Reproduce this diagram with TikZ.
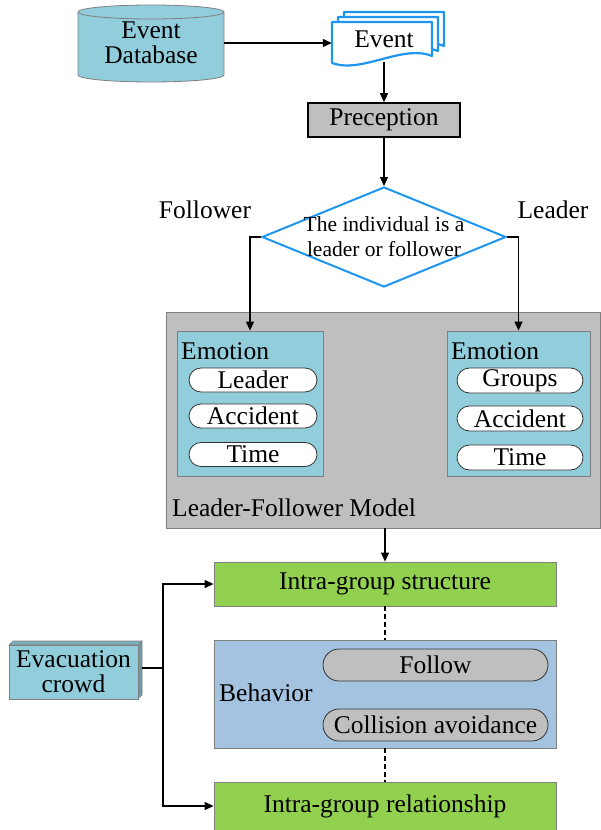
\documentclass[tikz,border=0pt]{standalone}
\usepackage{fontspec}
\setmainfont{Liberation Serif}
\newfontfamily\tnr{Liberation Serif}
\usetikzlibrary{shapes.geometric,shapes.misc,arrows.meta}
\definecolor{cyanfill}{HTML}{92CDDC}
\definecolor{docblue}{HTML}{1E96F0}
\definecolor{midgray}{HTML}{BFBFBF}
\definecolor{greenfill}{HTML}{92D050}
\definecolor{behavfill}{HTML}{A4C3E1}
\definecolor{edgegray}{HTML}{7F7F7F}
\newcommand{\bigtxt}{\tnr\fontsize{25.5}{25}\selectfont}
\tikzset{
  txt/.style={font=\bigtxt, inner sep=0pt},
  conn/.style={line width=1.2pt, -{Triangle[length=9pt,width=8pt]}},
  plainconn/.style={line width=1.2pt},
  pill/.style={rounded rectangle, draw=black!80, line width=0.8pt, fill=white, font=\bigtxt, inner sep=0pt},
  graypill/.style={pill, fill=midgray},
  emobox/.style={rectangle, draw=edgegray, line width=0.8pt, fill=cyanfill, inner sep=0pt},
  greenbox/.style={rectangle, draw=edgegray, line width=0.8pt, fill=greenfill, inner sep=0pt, font=\bigtxt},
}
\begin{document}
\begin{tikzpicture}[x=1pt,y=1pt]
\useasboundingbox (0,0) rectangle (601,-830);

% Event Database cylinder
\draw[draw=edgegray, line width=0.8pt, fill=cyanfill]
  (78,-12) -- (78,-75) arc[start angle=180,end angle=360,x radius=73,y radius=7]
  -- (224,-12) arc[start angle=0,end angle=180,x radius=73,y radius=7] -- cycle;
\draw[draw=edgegray, line width=0.8pt]
  (78,-12) arc[start angle=180,end angle=360,x radius=73,y radius=7];
\node[txt, align=center, minimum width=146pt, minimum height=70pt] (db) at (151,-43) {Event\\Database};

% Event multi-document
\foreach \dx/\dy in {12/10, 6/5, 0/0}{
  \begin{scope}[shift={(\dx,\dy)}]
  \draw[docblue, line width=2.2pt, fill=white, line join=round]
    (332,-22) -- (432,-22) -- (432,-56)
    .. controls (402,-44) and (362,-74) .. (332,-63) -- cycle;
  \end{scope}
}
\node[txt, minimum width=104pt, minimum height=38pt] (event) at (384,-43) {};
\node[txt] (eventlbl) at (384,-39) {Event};

% Preception
\node[rectangle, draw=black, line width=1.6pt, fill=midgray, minimum width=152pt, minimum height=34pt, font=\bigtxt, inner sep=0pt] (prec) at (384,-120) {Preception};

% Decision
\node[diamond, draw=docblue, line width=2pt, fill=white, minimum width=244pt, minimum height=100pt, aspect=2.44, inner sep=0pt] (dec) at (384,-237) {};
\node[font=\tnr\fontsize{21.5}{25}\selectfont, align=center, inner sep=0pt] (declbl) at (384,-237) {The individual is a\\leader or follower};
\node[txt] (fol) at (205,-210) {Follower};
\node[txt] (lead) at (553,-210) {Leader};

% Leader-Follower model box
\node[rectangle, draw=edgegray, line width=0.8pt, fill=midgray, minimum width=434pt, minimum height=216pt, inner sep=0pt] (lfm) at (383,-420) {};
\node[txt, anchor=west] (lfmlbl) at (172,-508) {Leader-Follower Model};

% Emotion boxes
\node[emobox, minimum width=146pt, minimum height=145pt] (emoL) at (250,-403.5) {};
\node[txt, anchor=west] (emoLlbl) at (181,-351) {Emotion};
\node[pill, minimum width=128pt, minimum height=24pt] (pL1) at (253,-380) {Leader};
\node[pill, minimum width=128pt, minimum height=24pt] (pL2) at (253,-416) {Accident};
\node[pill, minimum width=128pt, minimum height=24pt] (pL3) at (253,-454.5) {Time};

\node[emobox, minimum width=143pt, minimum height=145pt] (emoR) at (518.5,-403.5) {};
\node[txt, anchor=west] (emoRlbl) at (451,-351) {Emotion};
\node[pill, minimum width=126pt, minimum height=25pt] (pR1) at (520,-380.5) {Groups};
\node[pill, minimum width=126pt, minimum height=25pt] (pR2) at (520,-418.5) {Accident};
\node[pill, minimum width=126pt, minimum height=25pt] (pR3) at (520,-457.5) {Time};

% Lower part
\node[greenbox, minimum width=342pt, minimum height=44pt] (struct) at (385,-584) {Intra-group structure};
\node[rectangle, draw=edgegray, line width=0.8pt, fill=behavfill, minimum width=342pt, minimum height=108pt, inner sep=0pt] (behav) at (385,-694) {};
\node[txt, anchor=west] (behavlbl) at (219,-693) {Behavior};
\node[graypill, minimum width=225pt, minimum height=32pt] (follow) at (435.5,-665) {Follow};
\node[graypill, minimum width=225pt, minimum height=32pt] (coll) at (435.5,-725) {Collision avoidance};
\node[greenbox, minimum width=342pt, minimum height=50pt, anchor=north] (rel) at (385,-782) {};
\node[txt] (rellbl) at (385,-806) {Intra-group relationship};

% Evacuation crowd 3D box
\draw[draw=edgegray, line width=0.6pt, fill=cyanfill!85!black] (9,-645) -- (13,-641) -- (142,-641) -- (138,-645) -- cycle;
\draw[draw=edgegray, line width=0.6pt, fill=cyanfill!75!black] (138,-645) -- (142,-641) -- (142,-695) -- (138,-699) -- cycle;
\node[emobox, minimum width=129pt, minimum height=54pt, align=center, font=\tnr\fontsize{25.5}{25}\selectfont] (evac) at (73.5,-672) {Evacuation\\crowd};
\coordinate (split) at (163,-668);

% Connectors
\draw[conn] (db.east) -- (event.west |- db.east);
\draw[conn] (event.south) -- (prec.north);
\draw[conn] (prec.south) -- (dec.north);
\draw[conn] (dec.west) -| (emoL.north);
\draw[conn] (dec.east) -| (emoR.north);
\draw[conn] (struct.north |- lfm.south) -- (struct.north);
\draw[plainconn, dash pattern=on 5pt off 3pt] (struct.south) -- (behav.north);
\draw[plainconn, dash pattern=on 5pt off 3pt] (behav.south) -- (rel.north);
\draw[plainconn] (evac.east |- split) ++(4,0) -- (split);
\draw[conn] (split) |- (struct.west);
\draw[conn] (split) |- (rel.west |- rellbl);
\end{tikzpicture}
\end{document}
